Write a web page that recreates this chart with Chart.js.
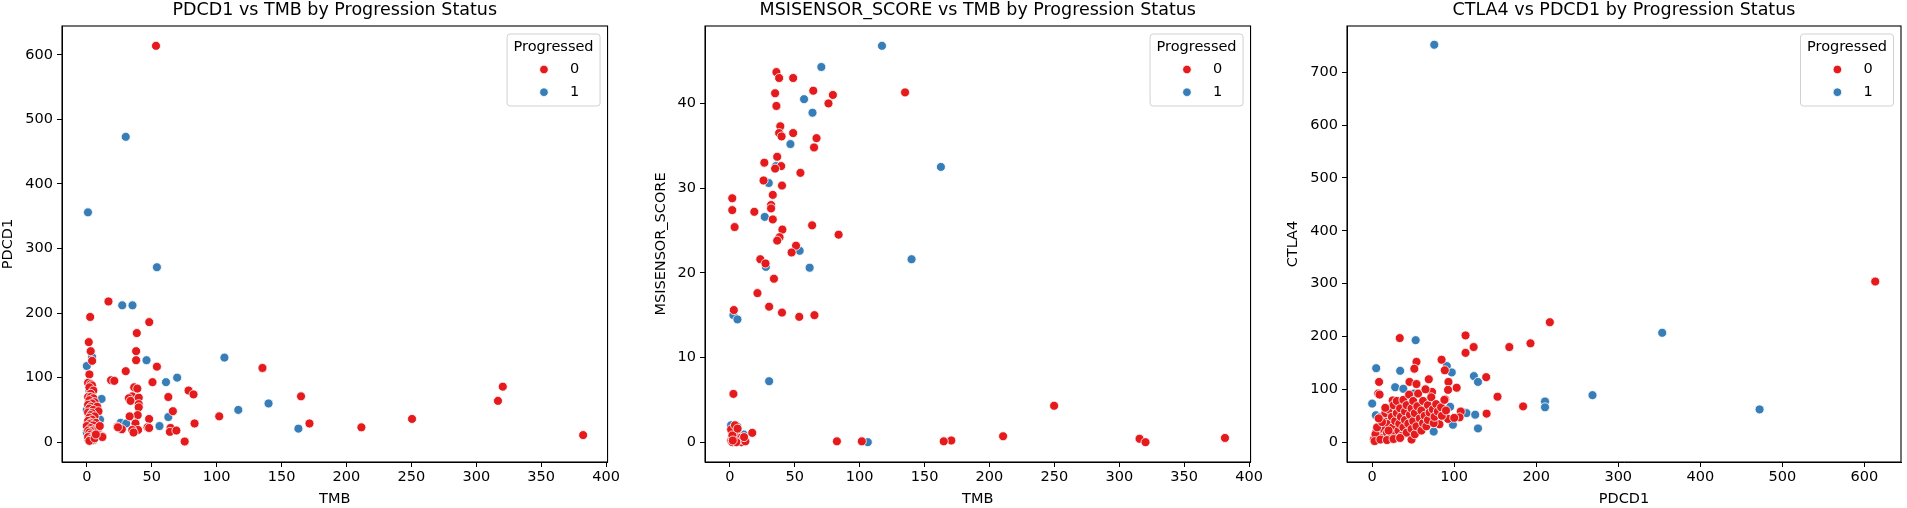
<!DOCTYPE html>
<html>
<head>
<meta charset="utf-8">
<script src="https://cdn.jsdelivr.net/npm/chart.js@4/dist/chart.umd.min.js"></script>
<style>
  body { margin: 0; background: #fff; overflow: hidden; }
  #wrap { position: relative; width: 1907px; height: 508px; }
  canvas { position: absolute; top: 0; }
</style>
</head>
<body>
<div id="wrap">
  <canvas id="c1" width="622" height="508" style="left:0px"></canvas>
  <canvas id="c2" width="622" height="508" style="left:643px"></canvas>
  <canvas id="c3" width="622" height="508" style="left:1285px"></canvas>
</div>
<script>
// ---- DATOS ----
const legendTitle = 'Progressed'
const groupLabels = ['0', '1']
const groupColors = ['#e41a1c', '#377eb8']

const titles = [
  'PDCD1 vs TMB by Progression Status',
  'MSISENSOR_SCORE vs TMB by Progression Status',
  'CTLA4 vs PDCD1 by Progression Status'
]
const xLabels = ['TMB', 'TMB', 'PDCD1']
const yLabels = ['PDCD1', 'MSISENSOR_SCORE', 'CTLA4']

// tick values
const tmbTicks = [0, 50, 100, 150, 200, 250, 300, 350, 400]
const pdcd1Ticks = [0, 100, 200, 300, 400, 500, 600]
const msiTicks = [0, 10, 20, 30, 40]
const ctla4Ticks = [0, 100, 200, 300, 400, 500, 600, 700]

// axis limits (data range + 5% margin)
const tmbRange = [-19.1, 401.1]
const pdcd1Range = [-30.7, 644.7]
const msiRange = [-2.34, 49.14]
const ctla4Range = [-37.5, 787.5]

// TMB vs PDCD1
const tmbPdcd1Prog0 = [
  [53.3,614],[16.7,218],[2.6,194],[48.1,186],[38.5,169],[1.5,155],[38,141],[3,141],[4.1,126],[38,127],
  [54,117],[30,110],[2,105],[18.7,96],[21.2,95],[50.6,93],[78.4,80],[82.2,74],[62.8,70],[35,71],
  [32.4,68],[33.7,64],[40,69],[40,59],[40,54],[66.3,48],[102,40],[39.2,42],[33,40],[48,36],
  [83,29],[23.5,24],[37.5,29],[46.8,23],[39.5,19],[35,19],[64.5,22],[64,16],[75.4,1],[12,9],
  [135.3,115],[320.4,86],[316.7,64],[165,71],[171.5,29],[211.5,23],[250.5,36],[382.3,11],[36.5,85],[38.9,83],
  [27,20],[24,23],[69,18],[48,22],[36,15],
  [1,92],[3,90],[4,88],[2,85],[5,80],[3,75],[1,70],[3,70],[5,68],[2,65],
  [6,62],[4,60],[1,58],[3,55],[8,55],[2,52],[5,50],[9,48],[1,46],[4,45],
  [3,42],[6,40],[2,38],[4,35],[1,33],[3,30],[7,30],[2,28],[5,26],[0,25],
  [3,22],[6,20],[1,18],[4,17],[2,15],[8,14],[3,12],[5,10],[1,8],[3,5],
  [4,3],[2,2],[6,6],[9,22],[10,25],[12,8],[7,12]
]
const tmbPdcd1Prog1 = [
  [30,473],[0.9,356],[54,271],[27.3,212],[35.2,212],[106,131],[46,127],[4.1,132],[0,118],[61,93],
  [69.6,100],[11.4,67],[116.7,50],[140,60],[62.8,39],[163,21],[56,25],[26,30],[30.4,29],[10.2,35],
  [2,80],[4,72],[0,50],[3,45],[2,40],[1,30],[4,25],[0,15],[2,10],[1,5],
  [5,3],[8,12],[3,60]
]

// TMB vs MSISENSOR_SCORE
const tmbMsiProg0 = [
  [35.9,43.7],[38,43.0],[48.8,43.0],[64.3,41.5],[34.9,41.2],[79.4,41.0],[135,41.3],[76,40],[35.9,39.7],[38.9,37.3],
  [38,36.5],[39.9,36.1],[48.8,36.5],[66.8,35.9],[64.9,34.8],[36.5,33.7],[26.6,33],[39.6,32.6],[34.9,32.3],[54.4,31.8],
  [26,30.9],[40.2,30.3],[33.1,29.2],[1.9,28.8],[31.8,28],[31.8,27.6],[1.9,27.4],[18.9,27.2],[33.1,26.3],[63.4,25.6],
  [3.7,25.4],[40.5,25.1],[83.8,24.5],[38.3,24.2],[36.5,23.8],[51,23.2],[47.6,22.4],[23.5,21.6],[27.5,21.1],[34,19.3],
  [21.3,17.6],[30.3,16],[40.2,15.3],[3.1,15.6],[53.5,14.8],[65.2,15],[2.8,5.7],[249.8,4.3],[17.3,1.1],[210.5,0.7],
  [381.4,0.5],[315.6,0.4],[320.2,0],[170.6,0.2],[164.8,0.1],[101.7,0.1],[82.5,0.1],
  [1,0.2],[2,0.5],[3,1.7],[4,0.3],[5,1.2],[2,0],[6,0.8],[7,0.2],[8,0.5],[9,0],
  [10,0.3],[3,1.0],[1,1.5],[5,0],[12,0.1],[4,2.0],[2,0.8],[6,1.6],[11,0.6],[2.3,0.2]
]
const tmbMsiProg1 = [
  [117.2,46.8],[70.5,44.3],[57.2,40.5],[63.7,38.9],[46.7,35.2],[162.6,32.5],[35.5,32.6],[30,30.6],[26.9,26.6],[53.8,22.6],
  [140,21.6],[61.5,20.6],[27.8,20.7],[2.8,15.0],[5.9,14.5],[30.3,7.2],[106.3,0],[5.6,1.9],[10.8,0.9],[1,2.0],
  [3,1.3],[6,1.5],[2,0.4],[7,0.6],[12,0.2],[4,0.1]
]

// PDCD1 vs CTLA4
const pdcd1Ctla4Prog0 = [
  [613.3,304],[216.6,227],[113.8,202],[193,187],[123.7,180],[167.2,180],[113.8,169],[33.6,197],[54,152],[84.6,156],
  [51.4,139],[88.5,136],[139,123],[93,114],[103,103],[92.5,99],[152.8,86],[184,67.7],[139.5,54],[108,58],
  [92.5,44],[8.4,114],[7.4,92],[69,119],[45.5,114],[48,5],[11,39],[23,19],[89,81],[25,79],
  [66,76],[106.5,47],[82,34],[9,90],[73,95],[54,110],
  [5,20],[8,12],[10,30],[12,8],[14,25],[15,40],[16,55],[18,18],[20,35],[20,62],
  [22,10],[24,48],[25,28],[26,70],[28,15],[28,40],[30,55],[30,78],[32,22],[33,35],
  [34,64],[35,48],[36,12],[38,28],[38,80],[40,58],[40,42],[42,18],[42,70],[44,35],
  [45,90],[46,52],[48,25],[48,64],[50,40],[50,78],[52,15],[52,55],[54,30],[55,68],
  [56,92],[58,45],[60,22],[60,60],[62,78],[62,36],[64,50],[65,100],[66,30],[68,70],
  [68,42],[70,56],[72,85],[74,62],[75,36],[76,48],[78,72],[80,58],[84,66],[85,50],
  [88,80],[90,60],[100,46],[2,5],[4,15],[6,28],[3,2],[10,5],[18,4],[26,6],
  [34,8],[20,22],[12,38],[8,45],[16,65]
]
const pdcd1Ctla4Prog1 = [
  [75.7,752],[353.6,207],[472.3,62],[268.6,89],[210.7,77],[210.7,66],[53,193],[4.9,140],[34.1,135],[91,144],
  [97,132],[124,125],[129,114],[28,104],[38,101],[0,73],[4.5,51],[15,46],[51,92],[95,67],
  [98.4,33],[115,55],[125.6,52],[129,26],[36.6,79],
  [2,4],[6,10],[12,20],[20,8],[25,30],[30,12],[35,45],[40,25],[45,60],[50,15],
  [55,40],[64,30],[70,48],[75,20],[22,55],[15,35],[10,48],[36,78]
]

// ---- OPCIONES COMUNES ----
const fontFamily = "'DejaVu Sans', sans-serif"
Chart.defaults.font.family = fontFamily
Chart.defaults.font.size = 14.5
Chart.defaults.color = '#000'

function toPoints(arr){
  return arr.map(([x, y]) => ({x: x, y: y}))
}

// marco completo alrededor del área del gráfico
const framePlugin = {
  id: 'frame',
  afterDraw(chart){
    const {ctx, chartArea: a} = chart
    ctx.save()
    ctx.strokeStyle = '#000'
    ctx.lineWidth = 1.1
    ctx.strokeRect(a.left, a.top, a.right - a.left, a.bottom - a.top)
    ctx.restore()
  }
}

// leyenda arriba a la derecha dentro del área
const legendPlugin = {
  id: 'legendBox',
  afterDraw(chart){
    const {ctx, chartArea: a} = chart
    ctx.save()
    ctx.beginPath()
    ctx.roundRect(a.right - 100.5, a.top + 8, 93, 72, 3)
    ctx.fillStyle = 'rgba(255,255,255,0.8)'
    ctx.fill()
    ctx.strokeStyle = 'rgba(204,204,204,0.9)'
    ctx.lineWidth = 1
    ctx.stroke()
    ctx.fillStyle = '#000'
    ctx.font = '14.5px ' + fontFamily
    ctx.textAlign = 'center'
    ctx.textBaseline = 'middle'
    ctx.fillText(legendTitle, a.right - 54, a.top + 21)
    groupLabels.forEach((lab, i) => {
      const y = a.top + 43.5 + i * 22.7
      ctx.beginPath()
      ctx.arc(a.right - 63.6, y, 4.3, 0, Math.PI * 2)
      ctx.fillStyle = groupColors[i]
      ctx.fill()
      ctx.strokeStyle = '#fff'
      ctx.lineWidth = 0.8
      ctx.stroke()
      ctx.fillStyle = '#000'
      ctx.fillText(lab, a.right - 33, y)
    })
    ctx.restore()
  }
}

function axis(range, ticks, label, horizontal, titlePad){
  return {
    type: 'linear',
    min: range[0],
    max: range[1],
    afterBuildTicks: (s) => { s.ticks = ticks.map(v => ({value: v})) },
    afterFit: (s) => {
      if (horizontal) s.height = 46
      else s.width = 62
    },
    ticks: {
      padding: horizontal ? 2 : 4,
      color: '#000',
      font: {size: 14.5}
    },
    grid: {
      display: true,
      drawOnChartArea: false,
      drawTicks: true,
      tickLength: 5,
      tickWidth: 1,
      tickColor: '#000'
    },
    border: {display: true, color: '#000', width: 1},
    title: {
      display: true,
      text: label,
      color: '#000',
      font: {size: 14.5},
      padding: horizontal ? {top: 0, bottom: 0} : {top: titlePad, bottom: 0}
    }
  }
}

function crearGrafico(id, title, red, blue, xRange, xTicks, yRange, yTicks, xLab, yLab, yTitlePad){
  const config = {
    type: 'scatter',
    data: {
      datasets: [
        {
          label: groupLabels[0],
          data: toPoints(red),
          backgroundColor: groupColors[0],
          borderColor: '#fff',
          borderWidth: 0.8,
          pointRadius: 4.5
        },
        {
          label: groupLabels[1],
          data: toPoints(blue),
          backgroundColor: groupColors[1],
          borderColor: '#fff',
          borderWidth: 0.8,
          pointRadius: 4.5
        }
      ]
    },
    options: {
      responsive: false,
      animation: false,
      devicePixelRatio: 1,
      layout: {padding: {left: 0, right: 6, top: 0, bottom: 0}},
      plugins: {
        legend: {display: false},
        tooltip: {enabled: false},
        title: {
          display: true,
          text: title,
          fullSize: false,
          color: '#000',
          font: {size: 17.5, weight: 'normal'},
          padding: {top: 0, bottom: 5}
        }
      },
      scales: {
        x: axis(xRange, xTicks, xLab, true, 0),
        y: axis(yRange, yTicks, yLab, false, yTitlePad)
      }
    },
    plugins: [framePlugin, legendPlugin]
  }
  return new Chart(document.getElementById(id), config)
}

crearGrafico('c1', titles[0], tmbPdcd1Prog0, tmbPdcd1Prog1, tmbRange, tmbTicks, pdcd1Range, pdcd1Ticks, xLabels[0], yLabels[0], 0)
crearGrafico('c2', titles[1], tmbMsiProg0, tmbMsiProg1, tmbRange, tmbTicks, msiRange, msiTicks, xLabels[1], yLabels[1], 9.5)
crearGrafico('c3', titles[2], pdcd1Ctla4Prog0, pdcd1Ctla4Prog1, pdcd1Range, pdcd1Ticks, ctla4Range, ctla4Ticks, xLabels[2], yLabels[2], 0)
</script>
</body>
</html>
